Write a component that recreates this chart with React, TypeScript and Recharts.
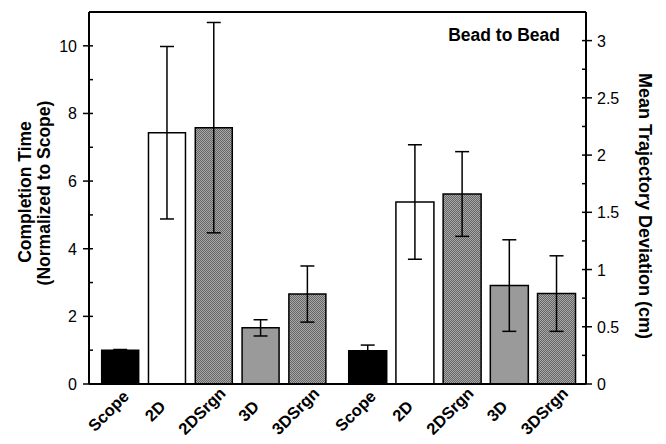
import React from 'react'
import { BarChart, Bar, XAxis, YAxis, ErrorBar, Cell, ReferenceLine } from 'recharts'

const categories = ['Scope', '2D', '2DSrgn', '3D', '3DSrgn']
// completion time, normalized to scope
const completionTime = [1.0, 7.43, 7.58, 1.66, 2.66]
const completionErr = [0.02, 2.55, 3.11, 0.24, 0.83]
// mean trajectory deviation, cm
const trajectoryDev = [0.29, 1.59, 1.66, 0.86, 0.79]
const trajectoryErr = [0.05, 0.5, 0.37, 0.4, 0.33]
const leftTicks = [0, 1, 2, 3, 4, 5, 6, 7, 8, 9, 10]
const rightTicks = [0, 0.25, 0.5, 0.75, 1, 1.25, 1.5, 1.75, 2, 2.25, 2.5, 2.75, 3]

const FONT = '"Liberation Sans", Arial, sans-serif'
const fills = ['#000', '#fff', 'url(#srgn)', '#9a9a9a', 'url(#srgn)']

const leftData = categories.map((name, i) => ({ name, value: completionTime[i], err: completionErr[i] }))
const rightData = categories.map((name, i) => ({ name, value: trajectoryDev[i], err: trajectoryErr[i] }))

const AX_L = 89
const AX_R = 249

function LeftTick(props: any) {
  const { y, payload } = props
  const v = payload.value
  const major = v % 2 === 0
  return (
    <g>
      <line x1={major ? AX_L - 6 : AX_L} x2={AX_L + 4} y1={y} y2={y} stroke="#000" strokeWidth={1.5} />
      {major && (
        <text x={AX_L - 12} y={y} dy={6} textAnchor="end" fontFamily={FONT} fontSize={16} fill="#000">
          {v}
        </text>
      )}
    </g>
  )
}

function RightTick(props: any) {
  const { y, payload } = props
  const v = payload.value
  const major = (v * 2) % 1 === 0
  return (
    <g>
      <line x1={AX_R - 4} x2={major ? AX_R + 6 : AX_R} y1={y} y2={y} stroke="#000" strokeWidth={1.5} />
      {major && (
        <text x={AX_R + 11} y={y} dy={6} textAnchor="start" fontFamily={FONT} fontSize={16} fill="#000">
          {v}
        </text>
      )}
    </g>
  )
}

function CatTick(props: any) {
  const { x, payload } = props
  return (
    <text
      transform={`translate(${x - 8},${415}) rotate(-45)`}
      textAnchor="middle"
      fontFamily={FONT}
      fontWeight="bold"
      fontSize={16.5}
      fill="#000"
    >
      {payload.value}
    </text>
  )
}

function Pattern() {
  return (
    <defs>
      <pattern id="srgn" width={2} height={2} patternUnits="userSpaceOnUse">
        <rect width={2} height={2} fill="#a8a8a8" />
        <rect width={1} height={1} fill="#666" />
        <rect x={1} y={1} width={1} height={1} fill="#666" />
      </pattern>
    </defs>
  )
}

export default function App() {
  return (
    <div style={{ position: 'absolute', left: 0, top: 0, width: 666, height: 444, background: '#fff', overflow: 'hidden' }}>
      <style>{'.recharts-surface { overflow: visible; } .recharts-wrapper { overflow: visible; }'}</style>
      <div style={{ position: 'absolute', left: 0, top: 0 }}>
        <BarChart width={337} height={444} data={leftData} margin={{ top: 12, right: 0, left: 0, bottom: 0 }} barCategoryGap="10%">
          <Pattern />
          <XAxis
            dataKey="name"
            height={60}
            padding={{ left: 8, right: 6 }}
            axisLine={{ stroke: '#000', strokeWidth: 2 }}
            tickLine={false}
            tick={<CatTick />}
            interval={0}
          />
          <YAxis
            yAxisId="time"
            width={89}
            domain={[0, 11]}
            ticks={leftTicks}
            interval={0}
            axisLine={{ stroke: '#000', strokeWidth: 2 }}
            tickLine={false}
            tick={<LeftTick />}
          />
          <YAxis yAxisId="edge" orientation="right" width={0} tick={false} tickLine={false} axisLine={{ stroke: '#000', strokeWidth: 1 }} />
          <ReferenceLine yAxisId="time" y={11} stroke="#000" strokeWidth={2} />
          <Bar yAxisId="time" dataKey="value" stroke="#000" strokeWidth={1.5} isAnimationActive={false}>
            {leftData.map((d, i) => (
              <Cell key={d.name} fill={fills[i]} />
            ))}
            <ErrorBar dataKey="err" width={7} stroke="#000" strokeWidth={1.5} />
          </Bar>
        </BarChart>
      </div>
      <div style={{ position: 'absolute', left: 337, top: 0 }}>
        <BarChart width={329} height={444} data={rightData} margin={{ top: 12, right: 0, left: 0, bottom: 0 }} barCategoryGap="10%">
          <Pattern />
          <XAxis
            dataKey="name"
            height={60}
            padding={{ left: 7, right: 6 }}
            axisLine={{ stroke: '#000', strokeWidth: 2 }}
            tickLine={false}
            tick={<CatTick />}
            interval={0}
          />
          <YAxis
            yAxisId="dev"
            orientation="right"
            width={80}
            domain={[0, 3.25]}
            ticks={rightTicks}
            interval={0}
            axisLine={{ stroke: '#000', strokeWidth: 2 }}
            tickLine={false}
            tick={<RightTick />}
          />
          <ReferenceLine yAxisId="dev" y={3.25} stroke="#000" strokeWidth={2} />
          <Bar yAxisId="dev" dataKey="value" stroke="#000" strokeWidth={1.5} isAnimationActive={false}>
            {rightData.map((d, i) => (
              <Cell key={d.name} fill={fills[i]} />
            ))}
            <ErrorBar dataKey="err" width={7} stroke="#000" strokeWidth={1.5} />
          </Bar>
        </BarChart>
      </div>
      <svg width={666} height={444} style={{ position: 'absolute', left: 0, top: 0, pointerEvents: 'none' }}>
        <g fontFamily={FONT} fontWeight="bold" fill="#000">
          <text transform="translate(31,192) rotate(-90)" textAnchor="middle" fontSize={17.5}>Completion Time</text>
          <text transform="translate(50,193) rotate(-90)" textAnchor="middle" fontSize={17.5}>(Normalized to Scope)</text>
          <text transform="translate(639,206) rotate(90)" textAnchor="middle" fontSize={18}>Mean Trajectory Deviation (cm)</text>
          <text x={560} y={41} textAnchor="end" fontSize={17.5}>Bead to Bead</text>
        </g>
      </svg>
    </div>
  )
}
